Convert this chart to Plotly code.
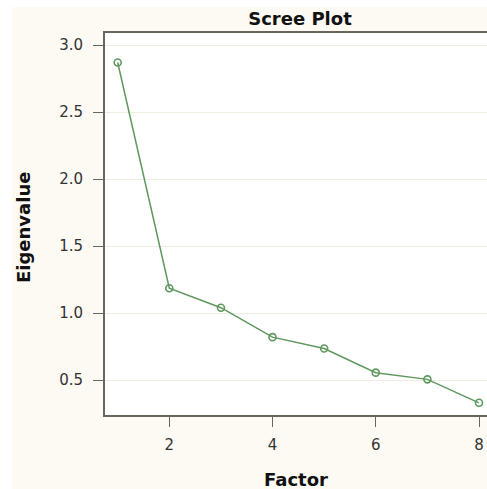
import plotly.graph_objects as go

factors = [1, 2, 3, 4, 5, 6, 7, 8]
eigenvalues = [2.87, 1.185, 1.04, 0.82, 0.735, 0.555, 0.505, 0.33]
y_ticks = [0.5, 1.0, 1.5, 2.0, 2.5, 3.0]
x_ticks = [2, 4, 6, 8]

W, H = 487, 489
ML, MR, MT, MB = 105, 0, 33, 74
PW, PH = W - ML - MR, H - MT - MB

green = "#5E985E"
axcol = "#6A665C"
font = "DejaVu Sans, Verdana, sans-serif"
tcol = "#111111"

fig = go.Figure()
fig.add_trace(go.Scatter(
    x=factors, y=eigenvalues, mode="lines+markers",
    line=dict(color=green, width=1.5),
    marker=dict(symbol="circle-open", size=7, color=green, line=dict(width=1.6, color=green)),
    showlegend=False, cliponaxis=False,
))

# white strips outside the cream page area (left and top)
fig.add_shape(type="rect", xref="paper", yref="paper",
              x0=-ML / PW, x1=(12 - ML) / PW, y0=-MB / PH, y1=1 + MT / PH,
              fillcolor="white", line_width=0, layer="below")
fig.add_shape(type="rect", xref="paper", yref="paper",
              x0=-ML / PW, x1=1 + MR / PW, y0=1 + (MT - 7) / PH, y1=1 + MT / PH,
              fillcolor="white", line_width=0, layer="below")

# axis titles
fig.add_annotation(text="<b>Factor</b>", xref="paper", yref="paper",
                   x=(296 - ML) / PW, y=-(479 - MT - PH) / PH,
                   xanchor="center", yanchor="middle", showarrow=False,
                   font=dict(family=font, size=18, color=tcol))
fig.add_annotation(text="<b>Eigenvalue</b>", xref="paper", yref="paper",
                   x=(23 - ML) / PW, y=1 - (228 - MT) / PH, textangle=-90,
                   xanchor="center", yanchor="middle", showarrow=False,
                   font=dict(family=font, size=18, color=tcol))

fig.update_layout(
    width=W, height=H,
    margin=dict(l=ML, r=MR, t=MT, b=MB, pad=0),
    paper_bgcolor="#FCFAF3",
    plot_bgcolor="white",
    font=dict(family=font, size=15, color="#333333"),
    title=dict(text="<b>Scree Plot</b>", x=300 / W, xanchor="center",
               y=1 - 19 / H, yanchor="middle",
               font=dict(family=font, size=18, color=tcol)),
    xaxis=dict(
        range=[0.754, 8.155], tickvals=x_ticks, ticks="outside", ticklen=10,
        tickcolor=axcol, tickwidth=1, showgrid=False, zeroline=False,
        showline=True, linecolor=axcol, linewidth=2, mirror=True,
        tickfont=dict(family=font, size=15, color="#333333"),
        ticklabelstandoff=5,
    ),
    yaxis=dict(
        range=[0.239, 3.09], tickvals=y_ticks, ticktext=[f"{v:.1f}" for v in y_ticks],
        ticks="outside", ticklen=10, tickcolor=axcol, tickwidth=1,
        showgrid=True, gridcolor="#EFEDE0", gridwidth=1, zeroline=False,
        showline=True, linecolor=axcol, linewidth=2,
        tickfont=dict(family=font, size=15, color="#333333"),
        ticklabelstandoff=7,
    ),
)

fig.write_html("out.html", config={"displayModeBar": False},
               post_script="document.body.style.margin='0';document.body.style.overflow='hidden';")
